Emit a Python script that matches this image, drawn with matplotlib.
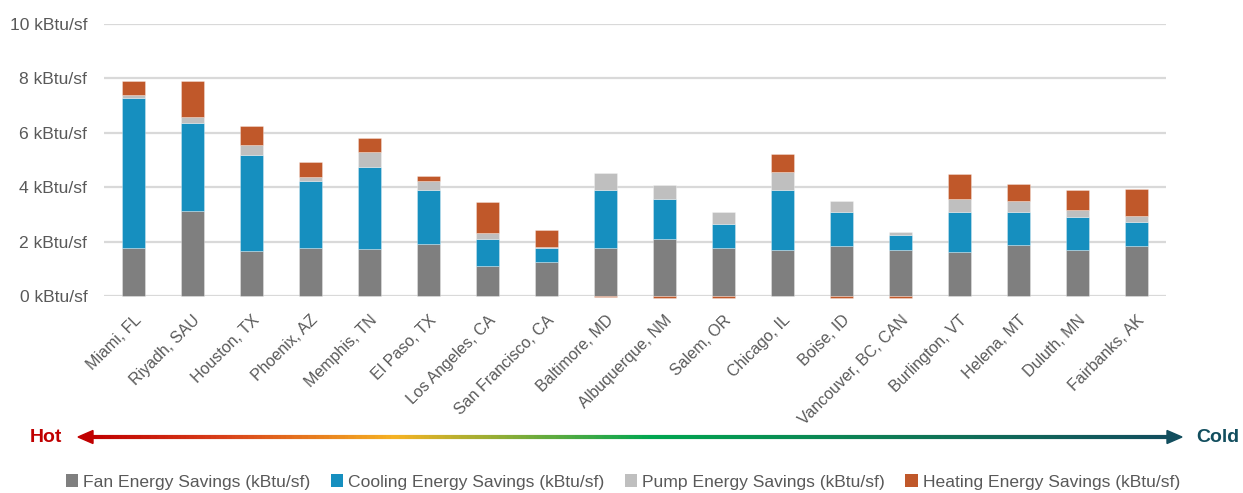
import numpy as np
import matplotlib
matplotlib.use("Agg")
import matplotlib.pyplot as plt
from matplotlib.collections import LineCollection
from matplotlib.colors import LinearSegmentedColormap
from matplotlib.patches import Polygon, Patch

plt.rcParams['font.family'] = ['Liberation Sans', 'DejaVu Sans']

cities = ["Miami, FL", "Riyadh, SAU", "Houston, TX", "Phoenix, AZ", "Memphis, TN",
          "El Paso, TX", "Los Angeles, CA", "San Francisco, CA", "Baltimore, MD",
          "Albuquerque, NM", "Salem, OR", "Chicago, IL", "Boise, ID",
          "Vancouver, BC, CAN", "Burlington, VT", "Helena, MT", "Duluth, MN",
          "Fairbanks, AK"]

fan = [1.78, 3.11, 1.65, 1.75, 1.72, 1.90, 1.10, 1.26, 1.76, 2.08, 1.75, 1.68,
       1.84, 1.68, 1.61, 1.89, 1.68, 1.82]
cooling = [5.49, 3.24, 3.53, 2.47, 3.03, 2.00, 1.00, 0.50, 2.14, 1.49, 0.91, 2.22,
           1.25, 0.55, 1.49, 1.19, 1.23, 0.90]
pump = [0.10, 0.21, 0.37, 0.15, 0.54, 0.34, 0.21, 0.04, 0.63, 0.51, 0.43, 0.64,
        0.39, 0.11, 0.45, 0.40, 0.23, 0.21]
heating = [0.53, 1.32, 0.71, 0.55, 0.52, 0.16, 1.16, 0.63, -0.02, -0.08, -0.08, 0.69,
           -0.08, -0.08, 0.92, 0.62, 0.74, 1.01]

yticks = [0, 2, 4, 6, 8, 10]
ytick_labels = [f"{v} kBtu/sf" for v in yticks]

series = [
    ("Fan Energy Savings (kBtu/sf)", fan, "#7f7f7f"),
    ("Cooling Energy Savings (kBtu/sf)", cooling, "#168fbf"),
    ("Pump Energy Savings (kBtu/sf)", pump, "#bfbfbf"),
    ("Heating Energy Savings (kBtu/sf)", heating, "#c0582a"),
]

W, H = 1243, 493
fig = plt.figure(figsize=(W / 100, H / 100), dpi=100)
ax = fig.add_axes([104 / W, 1 - 296 / H, (1166 - 104) / W, (296 - 23.7) / H])

x = np.arange(len(cities))
pos_base = np.zeros(len(cities))
neg_base = np.zeros(len(cities))
for name, vals, color in series:
    v = np.array(vals, dtype=float)
    bottoms = np.where(v >= 0, pos_base, neg_base)
    ax.bar(x, v, width=0.4, bottom=bottoms, color=color, edgecolor=(1, 1, 1, 0.35),
           linewidth=0.6, zorder=3, clip_on=False)
    pos_base = pos_base + np.where(v >= 0, v, 0)
    neg_base = neg_base + np.where(v < 0, v, 0)

ax.set_xlim(-0.5, len(cities) - 0.5)
ax.set_ylim(0, 10)
ax.set_yticks(yticks)
ax.set_yticklabels(ytick_labels)
ax.yaxis.grid(True, color="#d9d9d9", linewidth=1.6, zorder=0)
ax.set_axisbelow(True)
for s in ax.spines.values():
    s.set_visible(False)
ax.tick_params(axis="both", length=0, colors="#595959", labelsize=12.6)
ax.tick_params(axis="y", pad=12)
ax.set_xticks(x)
ax.set_xticklabels(cities, rotation=45, ha="right", rotation_mode="anchor",
                   fontsize=11.5)
ax.tick_params(axis="x", pad=12)

# Hot -> Cold gradient arrow beneath the chart
y_arrow = 1 - 437 / H
x0, x1 = 92 / W, 1168 / W
xs = np.linspace(x0, x1, 400)
pts = np.array([xs, np.full_like(xs, y_arrow)]).T.reshape(-1, 1, 2)
segs = np.concatenate([pts[:-1], pts[1:]], axis=1)
cmap = LinearSegmentedColormap.from_list(
    "hotcold",
    [(0.0, "#c00000"), (0.12, "#d8401a"), (0.28, "#f5b223"), (0.52, "#00a650"),
     (0.75, "#0f7a55"), (1.0, "#124e5e")])
lc = LineCollection(segs, colors=cmap(np.linspace(0, 1, len(segs))), linewidths=3,
                    transform=fig.transFigure)
fig.add_artist(lc)
hl, hh = 15 / W, 6.5 / H
fig.add_artist(Polygon([[78 / W, y_arrow], [78 / W + hl, y_arrow + hh],
                        [78 / W + hl, y_arrow - hh]], closed=True,
                       transform=fig.transFigure, color="#c00000"))
fig.add_artist(Polygon([[1182 / W, y_arrow], [1182 / W - hl, y_arrow + hh],
                        [1182 / W - hl, y_arrow - hh]], closed=True,
                       transform=fig.transFigure, color="#124e5e"))
fig.text(30 / W, y_arrow, "Hot", color="#c00000", fontsize=14, fontweight="bold",
         ha="left", va="center")
fig.text(1196 / W, y_arrow, "Cold", color="#124e5e", fontsize=14, fontweight="bold",
         ha="left", va="center")

handles = [Patch(facecolor=c, edgecolor="none") for _, _, c in series]
labels = [n for n, _, _ in series]
fig.legend(handles, labels, loc="center", bbox_to_anchor=(623 / W, 1 - 482 / H),
           ncol=4, frameon=False, fontsize=12.6, handlelength=0.7, handleheight=0.7,
           handletextpad=0.3, columnspacing=1.15, labelcolor="#595959")

fig.savefig("out.png", dpi=100, facecolor="white")
